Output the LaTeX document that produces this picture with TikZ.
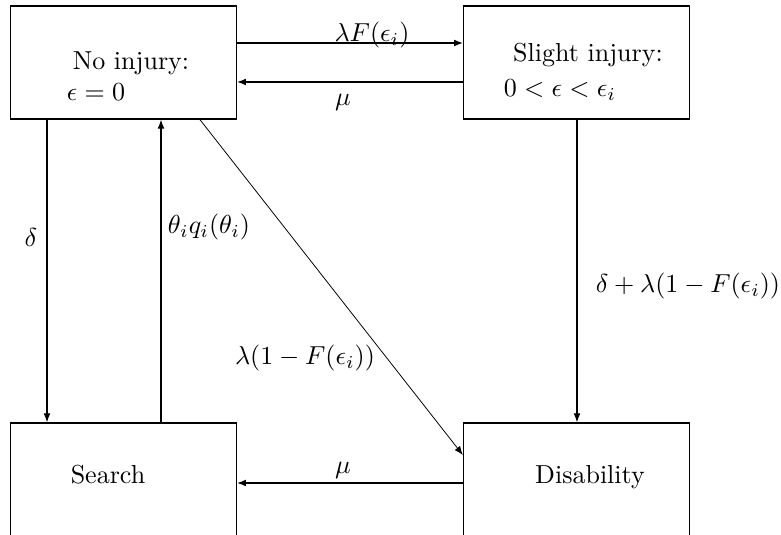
\documentclass[tikz,border=0pt]{standalone}
\usetikzlibrary{arrows.meta}
\begin{document}
\begin{tikzpicture}[x=0.3846pt,y=-0.3846pt,
  box/.style={draw,line width=0.5pt,rectangle,inner sep=0pt,minimum width=86.9pt,minimum height=43.5pt},
  lowbox/.style={draw,line width=0.5pt,rectangle,inner sep=0pt,minimum width=86.9pt,minimum height=46.2pt},
  arr/.style={line width=0.4pt,-{Latex[length=3.4pt,width=2.6pt]}},
  txt/.style={inner sep=0pt,font=\normalsize}]
\clip (0,0) rectangle (781,535);
\fill[white] (0,0) rectangle (781,535);
% boxes
\node[box] (nl) at (123.5,62.5) {};
\node[box] (sl) at (576.5,62.5) {};
\node[lowbox] (se) at (123.5,483) {};
\node[lowbox] (di) at (576.5,483) {};
% box texts
\node[txt] (nlt1) at (131,63) {No injury:};
\node[txt] (nlt2) at (96,92) {$\epsilon=0$};
\node[txt] (slt1) at (588,55) {Slight injury:};
\node[txt] (slt2) at (560,90) {$0<\epsilon<\epsilon_i$};
\node[txt] (set) at (108,475) {Search};
\node[txt] (dit) at (590,477) {Disability};
% connectors
\draw[arr] (nl.east |- 0,43) -- (sl.west |- 0,43);
\draw[arr] (sl.west |- 0,82) -- (nl.east |- 0,82);
\draw[arr] (nl.south -| 47,0) -- (se.north -| 47,0);
\draw[arr] (se.north -| 161,0) -- (nl.south -| 161,0);
\draw[arr] (sl.south -| 577,0) -- (di.north -| 577,0);
\draw[arr,line width=0.3pt] (nl.south -| 200,0) -- (di.west |- 0,455);
\draw[arr] (di.west |- 0,483) -- (se.east |- 0,483);
% labels
\node[txt] (l1) at (372,35) {$\lambda F(\epsilon_i)$};
\node[txt] (l2) at (343,102) {$\mu$};
\node[txt] (l3) at (31,237) {$\delta$};
\node[txt] (l4) at (209,227) {$\theta_i q_i(\theta_i)$};
\node[txt] (l5) at (305,358) {$\lambda(1-F(\epsilon_i))$};
\node[txt] (l6) at (688,286) {$\delta+\lambda(1-F(\epsilon_i))$};
\node[txt] (l7) at (343,470) {$\mu$};
\end{tikzpicture}
\end{document}
